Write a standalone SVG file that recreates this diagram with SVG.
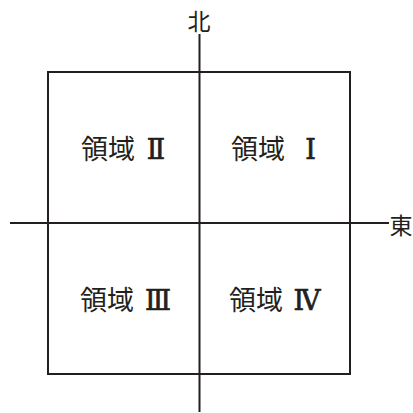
<svg xmlns="http://www.w3.org/2000/svg" width="413" height="413" viewBox="0 0 413 413">
  <style>
    .ln { stroke: #231f20; stroke-width: 2; fill: none; }
    .cjk { font-family: "Noto Sans CJK JP", sans-serif; font-size: 27px; fill: #231f20; }
    .num { font-family: "DejaVu Serif", "Liberation Serif", "Noto Sans CJK JP", serif; font-size: 27px; fill: #231f20; stroke: #231f20; stroke-width: 0.7px; text-anchor: middle; }
    .dir { font-family: "Noto Sans CJK JP", sans-serif; font-size: 23px; fill: #231f20; }
  </style>
  <rect width="413" height="413" fill="#ffffff"/>
  <g id="connectors">
    <rect class="ln" x="48" y="72" width="302" height="302"/>
    <line class="ln" x1="199.5" y1="34" x2="199.5" y2="412"/>
    <line class="ln" x1="10" y1="223" x2="389" y2="223"/>
  </g>
  <g id="north">
    <text class="dir" x="199" y="30" text-anchor="middle">北</text>
  </g>
  <g id="east">
    <text class="dir" x="389.5" y="234">東</text>
  </g>
  <g id="region2">
    <text class="cjk" x="81" y="159">領域<tspan class="num" x="156" y="159">Ⅱ</tspan></text>
  </g>
  <g id="region1">
    <text class="cjk" x="231" y="159">領域<tspan class="num" x="310.5" y="159">Ⅰ</tspan></text>
  </g>
  <g id="region3">
    <text class="cjk" x="80" y="310">領域<tspan class="num" x="158" y="310">Ⅲ</tspan></text>
  </g>
  <g id="region4">
    <text class="cjk" x="229" y="310">領域<tspan class="num" x="307" y="310">Ⅳ</tspan></text>
  </g>
</svg>
